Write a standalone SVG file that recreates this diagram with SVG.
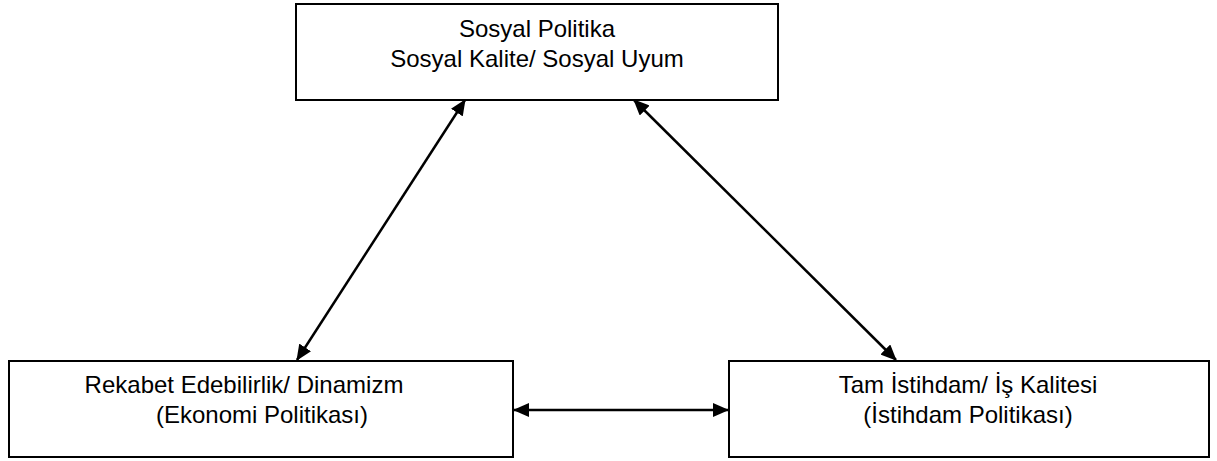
<svg xmlns="http://www.w3.org/2000/svg" width="1217" height="461" viewBox="0 0 1217 461">
<style>
.box{fill:#ffffff;stroke:#000000;stroke-width:2}
.lbl{font-family:"Liberation Sans",Arial,sans-serif;font-size:24px;fill:#000000;text-anchor:middle}
.conn{stroke:#000000;stroke-width:2.5;fill:none;marker-start:url(#ah);marker-end:url(#ah)}
</style>
<defs>
<marker id="ah" markerUnits="userSpaceOnUse" markerWidth="16" markerHeight="14" refX="15" refY="7" orient="auto-start-reverse" viewBox="0 0 16 14">
<path d="M0,0 L16,7 L0,14 z" fill="#000000"/>
</marker>
</defs>
<rect width="1217" height="461" fill="#ffffff"/>
<g id="node-sosyal">
<rect class="box" x="296" y="4" width="482" height="96"/>
<text class="lbl" x="537" y="37">Sosyal Politika</text>
<text class="lbl" x="537" y="67">Sosyal Kalite/ Sosyal Uyum</text>
</g>
<g id="node-rekabet">
<rect class="box" x="9" y="361" width="504" height="96"/>
<text class="lbl" x="244" y="393">Rekabet Edebilirlik/ Dinamizm</text>
<text class="lbl" x="262" y="423">(Ekonomi Politikası)</text>
</g>
<g id="node-istihdam">
<rect class="box" x="729" y="361" width="480" height="96"/>
<text class="lbl" x="968" y="393">Tam İstihdam/ İş Kalitesi</text>
<text class="lbl" x="968" y="423">(İstihdam Politikası)</text>
</g>
<g id="connectors">
<line class="conn" x1="465" y1="100" x2="297" y2="360"/>
<line class="conn" x1="634" y1="100" x2="896" y2="360"/>
<line class="conn" x1="514" y1="410" x2="728" y2="410"/>
</g>
</svg>
